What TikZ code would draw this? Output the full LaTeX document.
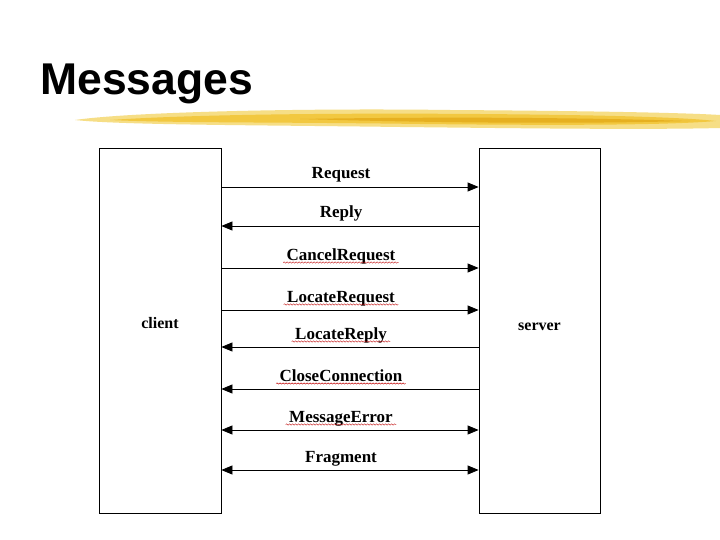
\documentclass[tikz,border=0pt]{standalone}
\usepackage{fontspec}
\setmainfont{Liberation Serif}
\newfontfamily\titlefont{Liberation Sans}
\usetikzlibrary{positioning, arrows.meta, decorations.pathmorphing}
\definecolor{brushlight}{HTML}{F6DE86}
\definecolor{brushmid}{HTML}{F2C840}
\definecolor{brushdark}{HTML}{E6B020}

\begin{document}
\begin{tikzpicture}[
  x=1pt, y=-1pt,
  >={Triangle[length=11pt,width=9pt]},
  party/.style={draw, line width=0.8pt, minimum height=365pt, inner sep=0pt},
  partyname/.style={font=\bfseries\fontsize{16}{18}\selectfont, anchor=base},
  msglabel/.style={font=\bfseries\fontsize{17}{19}\selectfont, anchor=base},
  msg/.style={line width=0.8pt},
  spell/.style={draw=red!75!black, line width=0.4pt, decorate, decoration={snake, amplitude=0.7pt, segment length=3pt}}
]
\useasboundingbox[fill=white] (0,0) rectangle (720,540);

% Title with brush stroke
\node[font=\titlefont\bfseries\fontsize{44.5}{48}\selectfont, anchor=base west, inner sep=0pt] (title) at (40,95) {Messages};
\fill[brushlight] (75,120) .. controls (130,112) and (300,108) .. (450,110)
  .. controls (600,111) and (690,113) .. (720,115) -- (720,128)
  .. controls (640,130) and (500,128) .. (400,127)
  .. controls (250,125) and (120,125) .. cycle;
\fill[brushmid] (110,120) .. controls (200,114) and (350,113) .. (480,114)
  .. controls (600,115) and (680,117) .. (716,121)
  .. controls (660,126) and (520,125) .. (420,124)
  .. controls (280,122) and (170,123) .. cycle;
\fill[brushdark] (300,119) .. controls (420,117) and (560,117) .. (690,121)
  .. controls (580,124) and (440,123) .. cycle;

% Client and server
\node[party, minimum width=122pt] (client) at (160,330.5) {};
\node[party, minimum width=121pt] (server) at (539.5,330.5) {};
\node[partyname] (clientname) at (160,328) {client};
\node[partyname] (servername) at (539.5,330) {server};

% Messages
\foreach \name/\ypos/\dir/\flag [count=\i] in {
  Request/187/->/0, Reply/226/<-/0, CancelRequest/268/->/1,
  LocateRequest/310/->/1, LocateReply/347/<-/1, CloseConnection/389/<-/1,
  MessageError/430/<->/1, Fragment/470/<->/0} {
  \draw[msg, \dir] (client.east |- 0,\ypos) -- (server.west |- 0,\ypos);
  \node[msglabel] (m\i) at (341,{\ypos-8}) {\name};
  \ifnum\flag=1
    \draw[spell] ([yshift=-2.5pt]m\i.base west) -- ([yshift=-2.5pt]m\i.base east);
  \fi
}
\end{tikzpicture}
\end{document}
